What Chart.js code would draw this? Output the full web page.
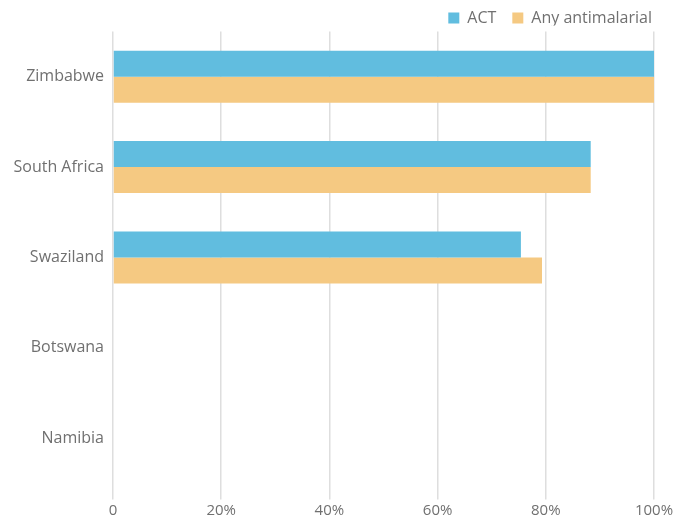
<!DOCTYPE html>
<html>
<head>
<meta charset="utf-8">
<script src="https://cdn.jsdelivr.net/npm/chart.js@4/dist/chart.umd.min.js"></script>
<style>
  html, body { margin: 0; padding: 0; background: #fff; }
  #wrap { width: 686px; height: 522px; }
</style>
</head>
<body>
<div id="wrap"><canvas id="chart" width="686" height="522"></canvas></div>
<script>
// Share of treated fever cases, by country
const countries = ['Zimbabwe', 'South Africa', 'Swaziland', 'Botswana', 'Namibia'];
const actValues = [100, 88.3, 75.4, null, null];
const anyAntimalarialValues = [100, 88.3, 79.3, null, null];
const xTicks = [0, 20, 40, 60, 80, 100];

const textColor = '#707070';
const fontFamily = '"Open Sans", "DejaVu Sans", sans-serif';

// nudge the legend up and to the right, past the plot's right padding
const legendNudge = {
    id: 'legendNudge',
    afterLayout(chart) {
        const lg = chart.legend;
        lg.left += 14;
        lg.right += 14;
        lg.top -= 6;
        lg.bottom -= 6;
    }
};

const ctx = document.getElementById('chart').getContext('2d');

new Chart(ctx, {
    type: 'bar',
    data: {
        labels: countries,
        datasets: [
            {
                label: 'ACT',
                data: actValues,
                backgroundColor: 'rgb(97, 189, 223)',
                barPercentage: 1,
                categoryPercentage: 0.575
            },
            {
                label: 'Any antimalarial',
                data: anyAntimalarialValues,
                backgroundColor: 'rgb(245, 201, 130)',
                barPercentage: 1,
                categoryPercentage: 0.575
            }
        ]
    },
    plugins: [legendNudge],
    options: {
        indexAxis: 'y',
        responsive: false,
        animation: false,
        layout: {
            padding: { left: 0, right: 32, top: 0, bottom: 0 }
        },
        plugins: {
            legend: {
                position: 'top',
                align: 'end',
                maxHeight: 31.5,
                labels: {
                    boxWidth: 11,
                    boxHeight: 11,
                    padding: 16,
                    color: textColor,
                    font: { family: fontFamily, size: 16 }
                }
            },
            tooltip: { enabled: false }
        },
        scales: {
            x: {
                min: 0,
                max: 100,
                afterBuildTicks: (scale) => {
                    scale.ticks = xTicks.map(v => ({ value: v }));
                },
                afterFit: (scale) => { scale.height = 38.5; },
                ticks: {
                    color: textColor,
                    padding: 2,
                    font: { family: fontFamily, size: 15 },
                    callback: (v) => v === 0 ? '0' : v + '%'
                },
                grid: {
                    color: '#dedede',
                    lineWidth: 1.5,
                    tickLength: 16
                },
                border: { display: false }
            },
            y: {
                afterFit: (scale) => { scale.width = 113; },
                ticks: {
                    color: textColor,
                    padding: 9,
                    font: { family: fontFamily, size: 16 }
                },
                grid: { display: false, drawTicks: false },
                border: { display: false }
            }
        }
    }
});
</script>
</body>
</html>
